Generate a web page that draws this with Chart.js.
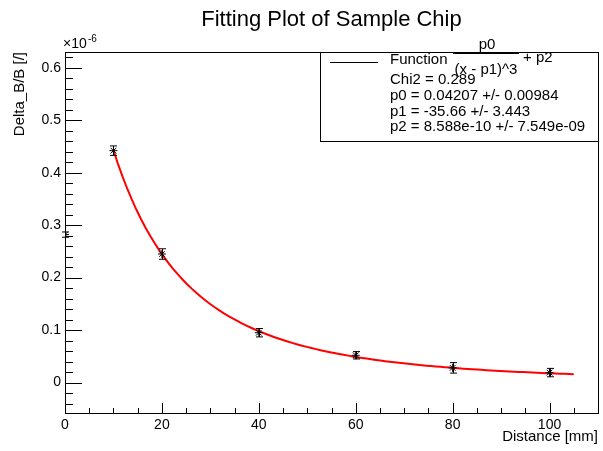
<!DOCTYPE html>
<html>
<head>
<meta charset="utf-8">
<script src="https://cdn.jsdelivr.net/npm/chart.js@4/dist/chart.umd.min.js"></script>
<style>
  html, body { margin: 0; padding: 0; background: #fff; }
  canvas { display: block; }
</style>
</head>
<body>
<canvas id="c" width="603" height="451"></canvas>
<script>
// Measured points (Delta_B/B in units of 1e-6)
const distances = [0, 10, 20, 40, 60, 80, 100];
const deltaBB   = [0.282, 0.442, 0.245, 0.095, 0.052, 0.028, 0.019];
const deltaErr  = [0.005, 0.009, 0.010, 0.008, 0.007, 0.010, 0.008];

// Fit: p0/(x-p1)^3 + p2
const fitParams = [0.04207, -35.66, 8.588e-10];
const fitRange  = [10, 105];
const fitSamples = 100;

const xTicks = [0, 20, 40, 60, 80, 100];
const yTicks = [0, 0.1, 0.2, 0.3, 0.4, 0.5, 0.6];

const titleText = 'Fitting Plot of Sample Chip';
const statsLines = [
  'Chi2 = 0.289',
  'p0 = 0.04207 +/- 0.00984',
  'p1 = -35.66 +/- 3.443',
  'p2 = 8.588e-10 +/- 7.549e-09'
];

const FONT = "'Liberation Sans', Arial, Helvetica, sans-serif";

const points = distances.map((d, i) => ({ x: d, y: deltaBB[i] }));

const fitCurve = [];
for (let i = 0; i <= fitSamples; i++) {
  const x = fitRange[0] + (fitRange[1] - fitRange[0]) * i / fitSamples;
  const y = fitParams[0] / Math.pow(x - fitParams[1], 3) + fitParams[2];
  fitCurve.push({ x: x, y: y * 1e6 });
}

// Vertical error bars with end caps
const errorBars = {
  id: 'errorBars',
  afterDatasetsDraw(chart) {
    const { ctx, scales: { x, y } } = chart;
    ctx.save();
    ctx.strokeStyle = '#000';
    ctx.lineWidth = 1;
    distances.forEach((d, i) => {
      const px = Math.round(x.getPixelForValue(d)) + 0.5;
      const y1 = y.getPixelForValue(deltaBB[i] - deltaErr[i]);
      const y2 = y.getPixelForValue(deltaBB[i] + deltaErr[i]);
      ctx.beginPath();
      ctx.moveTo(px, y1); ctx.lineTo(px, y2);
      ctx.moveTo(px - 3.5, y1); ctx.lineTo(px + 3.5, y1);
      ctx.moveTo(px - 3.5, y2); ctx.lineTo(px + 3.5, y2);
      ctx.stroke();
    });
    ctx.restore();
  }
};

// Frame with inward major/minor ticks
const frameTicks = {
  id: 'frameTicks',
  afterDatasetsDraw(chart) {
    const { ctx, chartArea: a, scales: { x, y } } = chart;
    ctx.save();
    ctx.strokeStyle = '#000';
    ctx.lineWidth = 1;
    ctx.strokeRect(Math.round(a.left) + 0.5, Math.round(a.top) + 0.5,
                   Math.round(a.right - a.left), Math.round(a.bottom - a.top));
    ctx.beginPath();
    for (let v = x.min; v <= x.max + 1e-9; v += 5) {
      const px = Math.round(x.getPixelForValue(v)) + 0.5;
      const len = (Math.round(v) % 20 === 0) ? 10 : 5;
      ctx.moveTo(px, a.bottom); ctx.lineTo(px, a.bottom - len);
    }
    for (let k = -2; k <= 31; k++) {
      const v = k * 0.02;
      if (v < y.min || v > y.max) continue;
      const py = Math.round(y.getPixelForValue(v)) + 0.5;
      const len = (k % 5 === 0) ? 17 : 8;
      ctx.moveTo(a.left, py); ctx.lineTo(a.left + len, py);
    }
    ctx.stroke();
    ctx.restore();
  }
};

// Title, exponent label and fit statistics box
const annotations = {
  id: 'annotations',
  afterDraw(chart) {
    const { ctx, chartArea: a } = chart;
    ctx.save();
    ctx.fillStyle = '#000';
    ctx.textBaseline = 'middle';

    ctx.font = '22px ' + FONT;
    ctx.textAlign = 'center';
    ctx.fillText(titleText, (a.left + a.right) / 2, 20);

    ctx.textAlign = 'left';
    ctx.font = '14px ' + FONT;
    ctx.fillText('\u00d710', 63, 44);
    ctx.font = '10px ' + FONT;
    ctx.fillText('-6', 88, 39);

    // stats box
    const bx = 320, by = Math.round(a.top), bw = Math.round(a.right) - 320, bh = 89;
    ctx.fillStyle = '#fff';
    ctx.fillRect(bx, by, bw, bh);
    ctx.strokeStyle = '#000';
    ctx.lineWidth = 1;
    ctx.strokeRect(bx + 0.5, by + 0.5, bw, bh);

    ctx.beginPath();
    ctx.moveTo(330, 62.5); ctx.lineTo(378, 62.5);
    ctx.stroke();

    ctx.fillStyle = '#000';
    ctx.font = '15px ' + FONT;
    ctx.fillText('Function', 390, 60);
    ctx.textAlign = 'center';
    ctx.fillText('p0', 487, 45);
    ctx.fillText('(x - p1)^3', 486, 70);
    ctx.beginPath();
    ctx.moveTo(453, 53.5); ctx.lineTo(519, 53.5);
    ctx.stroke();
    ctx.textAlign = 'left';
    ctx.fillText('+ p2', 523, 58);

    statsLines.forEach((t, i) => {
      ctx.fillText(t, 390, 80 + i * 15.7);
    });
    ctx.restore();
  }
};

new Chart(document.getElementById('c'), {
  type: 'scatter',
  data: {
    datasets: [
      {
        label: 'data',
        data: points,
        pointStyle: 'star',
        pointRadius: 4,
        pointBorderColor: '#000',
        pointBackgroundColor: '#000',
        pointBorderWidth: 1,
        showLine: false
      },
      {
        label: 'fit',
        data: fitCurve,
        showLine: true,
        borderColor: '#ff0000',
        borderWidth: 2,
        pointRadius: 0,
        tension: 0
      }
    ]
  },
  options: {
    responsive: false,
    animation: false,
    layout: { padding: { left: 0, top: 52, right: 3, bottom: 0 } },
    plugins: {
      legend: { display: false },
      title: { display: false },
      tooltip: { enabled: false }
    },
    scales: {
      x: {
        type: 'linear',
        min: 0,
        max: 110,
        grid: { display: false, drawTicks: false },
        border: { display: false },
        afterBuildTicks: s => { s.ticks = xTicks.map(v => ({ value: v })); },
        afterFit: s => { s.height = 38; },
        ticks: {
          autoSkip: false,
          maxRotation: 0,
          padding: 4,
          color: '#000',
          font: { family: FONT, size: 14 },
          callback: v => String(v)
        },
        title: {
          display: true,
          text: 'Distance [mm]',
          align: 'end',
          color: '#000',
          font: { family: FONT, size: 15 },
          padding: { top: 0, bottom: 5 }
        }
      },
      y: {
        type: 'linear',
        min: -0.058,
        max: 0.63,
        grid: { display: false, drawTicks: false },
        border: { display: false },
        afterBuildTicks: s => { s.ticks = yTicks.map(v => ({ value: v })); },
        afterFit: s => { s.width = 65; },
        ticks: {
          autoSkip: false,
          padding: 4,
          color: '#000',
          font: { family: FONT, size: 14 },
          callback: v => String(Math.round(v * 10) / 10)
        },
        title: {
          display: true,
          text: 'Delta_B/B [/]',
          align: 'end',
          color: '#000',
          font: { family: FONT, size: 15 },
          padding: { top: 11, bottom: 0 }
        }
      }
    }
  },
  plugins: [errorBars, frameTicks, annotations]
});
</script>
</body>
</html>
